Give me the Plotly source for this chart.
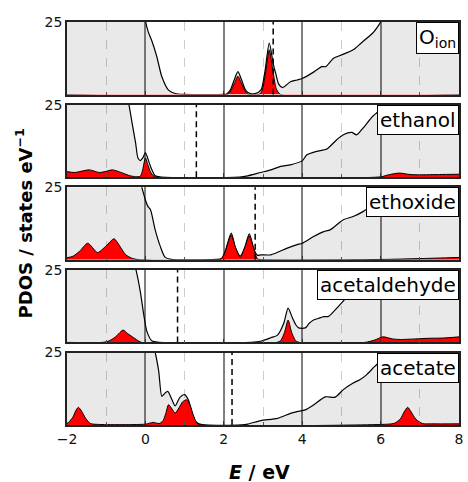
import plotly.graph_objects as go
from plotly.subplots import make_subplots

# ---------------- data ----------------
labels = ["O<sub>ion</sub>", "ethanol", "ethoxide", "acetaldehyde", "acetate"]
fermi_levels = [3.26, 1.30, 2.80, 0.82, 2.21]

# panel 1: O_ion
tot1_x = [-2, -0.05, 0, 0.07, 0.17, 0.29, 0.42, 0.59, 0.76, 1.0, 2.0, 2.07, 2.16, 2.26, 2.36, 2.46, 2.56, 2.66, 2.8,
          2.95, 3.05, 3.16, 3.27, 3.33, 3.4, 3.5, 3.7, 3.87, 4.0, 4.3, 4.5, 4.6, 4.8, 5.0, 5.3, 5.5, 5.8, 5.9, 6.0, 6.1, 8]
tot1_y = [40, 30, 25.5, 21.7, 18.3, 13.1, 6.1, 1.5, 0.35, 0.05, 0.05, 0.2, 1.4, 4.8, 7.9, 4.8, 1.4, 0.4, 0.3,
          1.6, 8.0, 17.7, 10.0, 7.0, 3.6, 2.4, 4.4, 5.0, 5.5, 7.8, 9.6, 9.6, 12.5, 13.6, 15.4, 17.7, 21.2, 22.9, 25, 30, 40]
red1_x = [-2, 2.1, 2.2, 2.28, 2.36, 2.44, 2.52, 2.62, 2.9, 2.98, 3.06, 3.16, 3.26, 3.34, 3.45, 8]
red1_y = [0, 0, 1.8, 4.2, 6.3, 4.2, 1.8, 0, 0, 1.5, 7.0, 15.4, 7.5, 2.0, 0, 0]

# panel 2: ethanol
tot2_x = [-2, -0.5, -0.42, -0.34, -0.25, -0.19, -0.13, -0.06, 0.0, 0.06, 0.13, 0.25, 0.4, 2.4, 2.61, 2.94, 3.2,
          3.45, 3.7, 4.0, 4.12, 4.37, 4.63, 4.88, 5.05, 5.26, 5.39, 5.55, 5.8, 5.93, 6.05, 6.2, 8]
tot2_y = [40, 30, 25, 18.7, 11.8, 6.6, 5.7, 6.8, 8.5, 6.5, 3.7, 0.45, 0.05, 0.05, 0.45, 1.6, 2.5,
          3.7, 4.25, 5.6, 7.7, 8.9, 9.7, 12.9, 14.6, 15.4, 14.6, 16.9, 21.0, 22.5, 25, 30, 40]
red2_x = [-2, -1.8, -1.43, -1.18, -1.0, -0.84, -0.6, -0.4, -0.25, -0.13, -0.07, 0.0, 0.07, 0.13, 0.2, 0.27,
          6.0, 6.2, 6.48, 6.75, 7.0, 7.5, 8]
red2_y = [1.9, 1.6, 2.5, 1.6, 2.0, 2.5, 1.5, 0.5, 0.15, 0.3, 2.5, 6.6, 4.0, 1.8, 0.5, 0,
          0.1, 0.8, 1.4, 0.9, 0.8, 0.9, 1.0]

# panel 3: ethoxide
tot3_x = [-2, -0.2, -0.1, -0.03, 0.0, 0.06, 0.13, 0.25, 0.38, 0.5, 0.65, 1.8, 1.94, 2.05, 2.19, 2.3, 2.42, 2.53,
          2.65, 2.77, 2.86, 2.94, 3.2, 3.62, 3.87, 4.0, 4.29, 4.55, 4.71, 5.05, 5.3, 5.55, 5.68, 5.85, 6.0, 6.2, 8]
tot3_y = [40, 32, 25.5, 22, 20.6, 18.5, 17.2, 10.3, 4.6, 0.9, 0.15, 0.1, 0.4, 3.5, 9.2, 4.0, 1.3, 4.0,
          8.9, 3.5, 1.5, 1.7, 1.7, 4.0, 5.2, 5.7, 8.0, 9.7, 10.3, 13.8, 14.9, 16.6, 17.8, 20.5, 23.5, 30, 40]
red3_x = [-2, -1.85, -1.68, -1.47, -1.22, -1.0, -0.8, -0.62, -0.5, -0.34, -0.15, 1.9, 2.0, 2.1, 2.19, 2.28, 2.42,
          2.54, 2.65, 2.75, 2.86, 3.0, 6.0, 7.0, 8]
red3_y = [0.7, 1.2, 2.9, 5.7, 2.5, 4.8, 7.2, 4.0, 1.7, 0.5, 0.0, 0, 1.5, 5.5, 8.6, 5.0, 0.9,
          4.5, 8.3, 4.5, 0.3, 0, 0.1, 0.4, 0.8]

# panel 4: acetaldehyde
tot4_x = [-2, -0.35, -0.24, -0.13, -0.04, 0.04, 0.17, 0.35, 2.7, 2.94, 3.2, 3.37, 3.53, 3.64, 3.75, 3.84, 3.91,
          4.08, 4.18, 4.29, 4.42, 4.55, 4.67, 4.8, 5.0, 5.1, 5.3, 5.5, 8]
tot4_y = [40, 30, 25, 17.5, 9.4, 3.7, 0.45, 0.05, 0.05, 0.4, 1.6, 2.5, 6.6, 11.8, 8.5, 6.0, 5.0,
          5.0, 6.6, 7.7, 8.3, 8.9, 8.9, 10.6, 13.5, 15.2, 20, 26, 40]
red4_x = [-2, -1.1, -0.95, -0.8, -0.68, -0.57, -0.45, -0.33, -0.2, -0.1, 3.35, 3.45, 3.55, 3.64, 3.73, 3.83, 3.93,
          5.6, 5.85, 6.06, 6.3, 6.5, 6.9, 7.2, 7.6, 8]
red4_y = [0, 0, 0.4, 1.5, 3.0, 4.25, 3.0, 1.9, 0.7, 0, 0, 0.6, 3.5, 7.7, 3.5, 0.6, 0,
          0, 0.8, 1.9, 1.2, 1.0, 1.2, 1.4, 1.5, 1.9]

# panel 5: acetate
tot5_x = [-2, 0.1, 0.25, 0.34, 0.42, 0.5, 0.57, 0.67, 0.76, 0.88, 1.0, 1.1, 1.2, 1.3, 1.45, 2.45, 2.61, 2.94, 3.37,
          3.7, 3.87, 4.08, 4.29, 4.59, 4.84, 5.05, 5.3, 5.47, 5.64, 5.85, 6.0, 6.15, 8]
tot5_y = [40, 32, 25, 18.5, 9.9, 11.0, 11.6, 9.0, 6.6, 9.5, 10.5, 8.5, 3.5, 1.0, 0.1, 0.05, 0.3, 1.5, 2.3,
          4.0, 4.6, 5.2, 6.9, 9.7, 9.6, 12.2, 14.5, 15.6, 17.3, 20.2, 22.1, 25.5, 40]
red5_x = [-2, -1.96, -1.85, -1.78, -1.71, -1.63, -1.52, -1.4, -1.2, 0.0, 0.2, 0.35, 0.45, 0.52, 0.59, 0.68, 0.76,
          0.86, 0.95, 1.05, 1.15, 1.22, 1.32, 1.45, 6.2, 6.35, 6.5, 6.6, 6.69, 6.78, 6.9, 7.07, 7.3, 8]
red5_y = [0.6, 0.9, 2.7, 4.8, 6.1, 4.8, 2.2, 0.5, 0.2, 0.3, 0.9, 0.5, 1.5, 4.0, 7.0, 5.5, 4.1,
          6.0, 8.0, 8.7, 6.5, 3.5, 0.6, 0, 0.3, 0.6, 2.0, 4.5, 6.1, 4.5, 2.0, 0.5, 0.4, 0.4]

totals = [(tot1_x, tot1_y), (tot2_x, tot2_y), (tot3_x, tot3_y), (tot4_x, tot4_y), (tot5_x, tot5_y)]
reds = [(red1_x, red1_y), (red2_x, red2_y), (red3_x, red3_y), (red4_x, red4_y), (red5_x, red5_y)]

x_range = [-2, 8]
y_range = [0, 25]
x_tickvals = [-2, 0, 2, 4, 6, 8]
y_tickvals = [25]

# ---------------- figure ----------------
FONT = "DejaVu Sans"
fig = make_subplots(rows=5, cols=1, shared_xaxes=True, vertical_spacing=0.025)

for i in range(5):
    r = i + 1
    tx, ty = totals[i]
    rx, ry = reds[i]
    fig.add_trace(go.Scatter(x=tx, y=ty, mode="lines", line=dict(color="black", width=1.2, shape="spline", smoothing=0.7),
                             fill="tozeroy", fillcolor="rgba(0,0,0,0.085)", showlegend=False, hoverinfo="skip"),
                  row=r, col=1)
    fig.add_trace(go.Scatter(x=rx, y=ry, mode="lines", line=dict(color="black", width=1.0, shape="spline", smoothing=0.7),
                             fill="tozeroy", fillcolor="#ff0000", showlegend=False, hoverinfo="skip"),
                  row=r, col=1)

H = 403.0
h = 72.5
g = (H - 5 * h) / 4
for i in range(5):
    top = 1 - i * (h + g) / H
    bot = top - h / H
    sfx = "" if i == 0 else str(i + 1)
    fig.layout["yaxis" + sfx].update(
        domain=[max(bot, 0), min(top, 1)], range=y_range, tickvals=y_tickvals, ticks="",
        showgrid=False, zeroline=False, showline=True, mirror=True, linecolor="#222", linewidth=1.5,
        tickfont=dict(family=FONT, size=14, color="#111"))
    fig.layout["xaxis" + sfx].update(
        range=x_range, tickvals=x_tickvals, showgrid=True, gridcolor="#808080", gridwidth=1.5,
        zeroline=False, showline=True, mirror=True, linecolor="#222", linewidth=1.5,
        ticks="inside", ticklen=4, tickcolor="#333",
        minor=dict(dtick=1, tick0=0, showgrid=True, gridcolor="#cccccc", griddash="dash", gridwidth=1,
                   ticks="inside", ticklen=3, tickcolor="#555"),
        tickfont=dict(family=FONT, size=14, color="#111"), showticklabels=(i == 4))
    xref = "x" + sfx
    yref = "y" + sfx
    fig.add_shape(type="line", xref=xref, yref=yref + " domain", x0=fermi_levels[i], x1=fermi_levels[i], y0=0, y1=1,
                  line=dict(color="black", width=1.5, dash="6px,4px"))
    fig.add_annotation(text=labels[i], xref=xref + " domain", yref=yref + " domain", x=1, y=1,
                       xanchor="right", yanchor="top", showarrow=False, bgcolor="white",
                       bordercolor="black", borderwidth=1, borderpad=2,
                       font=dict(family=FONT, size=20, color="black"))

fig.add_annotation(text="<b>PDOS / states eV<sup>\u22121</sup></b>", xref="paper", yref="paper",
                   x=-0.11, y=0.5, xanchor="center", yanchor="middle", textangle=-90, showarrow=False,
                   font=dict(family=FONT, size=18, color="black"))
fig.add_annotation(text="<b><i>E</i> / eV</b>", xref="paper", yref="paper",
                   x=0.49, y=-0.117, xanchor="center", yanchor="middle", showarrow=False,
                   font=dict(family=FONT, size=19, color="black"))

fig.update_layout(width=468, height=482, margin=dict(l=67, r=5, t=22, b=57),
                  paper_bgcolor="white", plot_bgcolor="white", showlegend=False)

fig.write_html("out.html")
